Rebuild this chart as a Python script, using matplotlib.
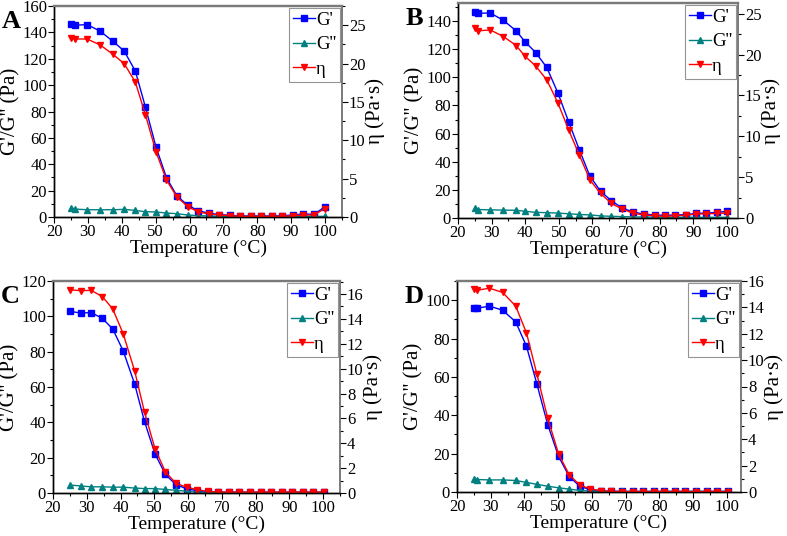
import matplotlib.pyplot as plt
from matplotlib.ticker import MultipleLocator

plt.rcParams['font.family'] = ['Liberation Serif', 'DejaVu Serif']

# temperatures (degC)
tA = [25, 26.3, 29.8, 33.7, 37.4, 40.7, 44, 47, 50.1, 53.2, 56.3, 59.5, 62.6,
      65.7, 68.8, 71.9, 75, 78.1, 81.2, 84.3, 87.4, 90.5, 93.6, 96.7, 99.9]
tB = [25, 26, 29.6, 33.5, 37.3, 39.9, 43.1, 46.4, 49.7, 52.9, 56.1, 59.2, 62.4,
      65.6, 68.8, 72, 75.2, 78.5, 81.5, 84.6, 87.9, 90.9, 93.8, 97.1, 100]
tC = [25, 28.2, 31.3, 34.6, 37.7, 40.8, 44.2, 47.1, 50.2, 53.3, 56.4, 59.6, 62.7,
      65.8, 69, 72.1, 75.2, 78.3, 81.5, 84.6, 87.7, 90.8, 94, 97, 100.2]
tD = [25.1, 26, 29.6, 33.5, 37.4, 40.6, 43.7, 46.9, 50.1, 53.3, 56.4, 59.5, 62.7,
      65.8, 69, 72.1, 75.2, 78.3, 81.5, 84.6, 87.7, 90.8, 94, 97, 100.2]

# storage modulus G' (Pa)
gpA = [146.4, 145.4, 145.9, 140.8, 133.2, 125.9, 110.7, 83.2, 53.1, 29.8, 15.9, 8.9, 4.8,
       2.8, 1.8, 1.3, 0.8, 0.8, 0.8, 0.8, 1.0, 1.5, 2.3, 2.0, 7.6]
gpB = [146.5, 145.5, 145.7, 140.5, 133, 125.4, 117.6, 107, 89, 68.5, 48.5, 30, 19,
       12.3, 7.2, 4.3, 2.8, 2.1, 1.9, 2.1, 2.4, 3.3, 3.5, 4.0, 4.7]
gpC = [102.8, 101.9, 102.1, 98.9, 92.8, 80.4, 61.6, 40.5, 22.2, 10.5, 4.7, 2.4, 1.3,
       0.75, 0.5, 0.4, 0.4, 0.4, 0.4, 0.4, 0.4, 0.4, 0.4, 0.4, 0.4]
gpD = [96, 95.8, 96.9, 94.8, 88.7, 76, 56.2, 35.1, 18.6, 8, 3, 1.2, 0.5,
       0.35, 0.3, 0.3, 0.3, 0.3, 0.3, 0.3, 0.3, 0.3, 0.3, 0.3, 0.3]

# loss modulus G'' (Pa)
gppA = [7, 6, 5.5, 5.5, 5.5, 5.8, 5, 4, 3.8, 3, 2.5, 1.5, 1,
        0.8, 0.5, 0.5, 0.5, 0.5, 0.5, 0.5, 0.5, 0.5, 0.5, 0.5, 0.5]
gppB = [7, 6, 5.8, 5.6, 5.5, 4.8, 4, 3.8, 3.5, 3, 2.5, 2.2, 1.5,
        1.2, 1, 0.8, 0.7, 0.6, 0.5, 0.5, 0.5, 0.5, 0.5, 0.5, 0.5]
gppC = [4.5, 4, 3.5, 3.5, 3.3, 3.3, 2.8, 2.5, 2.5, 2, 1.5, 1, 0.5,
        0.4, 0.4, 0.4, 0.4, 0.4, 0.4, 0.4, 0.4, 0.4, 0.4, 0.4, 0.4]
gppD = [7, 6.5, 6.3, 6.3, 6, 5, 4, 3, 2.2, 1.5, 0.8, 0.5, 0.3,
        0.3, 0.3, 0.3, 0.3, 0.3, 0.3, 0.3, 0.3, 0.3, 0.3, 0.3, 0.3]

# viscosity eta (Pa s)
etaA = [23.35, 23.2, 23.2, 22.4, 21.2, 20.0, 17.6, 13.3, 8.5, 4.8, 2.6, 1.35, 0.65,
        0.4, 0.26, 0.17, 0.09, 0.09, 0.09, 0.09, 0.09, 0.17, 0.26, 0.26, 1.09]
etaB = [23.2, 22.9, 23.0, 22.2, 21.1, 19.8, 18.6, 16.9, 14.1, 10.8, 7.7, 4.7, 3.0,
        1.8, 1.1, 0.6, 0.37, 0.28, 0.2, 0.28, 0.33, 0.5, 0.5, 0.57, 0.6]
etaC = [16.35, 16.27, 16.3, 15.8, 14.8, 12.8, 9.8, 6.5, 3.57, 1.69, 0.78, 0.46, 0.27,
        0.13, 0.08, 0.08, 0.08, 0.08, 0.08, 0.08, 0.08, 0.08, 0.08, 0.08, 0.08]
etaD = [15.4, 15.3, 15.45, 15.14, 14.1, 12.06, 8.92, 5.59, 2.9, 1.29, 0.53, 0.23, 0.1,
        0.05, 0.03, 0.03, 0.03, 0.03, 0.03, 0.03, 0.03, 0.03, 0.03, 0.03, 0.03]

panels = [
    ("A", tA, gpA, gppA, etaA, [54, 6, 342, 217], 105, 160, 27.5, 20, 5),
    ("B", tB, gpB, gppB, etaB, [458, 3, 738, 218], 103.3, 152.8, 26.3, 20, 5),
    ("C", tC, gpC, gppC, etaC, [53, 281, 340, 493], 105, 120, 17.05, 20, 2),
    ("D", tD, gpD, gppD, etaD, [457, 281, 741, 492], 104.2, 110, 16, 20, 2),
]

W, H = 787, 536
fig = plt.figure(figsize=(W / 100, H / 100), dpi=100)
blue, teal, red = '#0000ff', '#008080', '#ff0000'
gray = '#7a7a7a'

for letter, t, gp, gpp, eta, box, xmax, ymax, rmax, ystep, rstep in panels:
    x0, y0, x1, y1 = box
    ax = fig.add_axes([x0 / W, 1 - y1 / H, (x1 - x0) / W, (y1 - y0) / H])
    ax2 = ax.twinx()
    l1, = ax.plot(t, gp, '-s', color=blue, lw=1, ms=4.5)
    l2, = ax.plot(t, gpp, '-^', color=teal, lw=1, ms=4.5)
    l3, = ax2.plot(t, eta, '-v', color=red, lw=1, ms=5)
    ax.set_xlim(20, xmax)
    ax.set_ylim(0, ymax)
    ax2.set_ylim(0, rmax)
    ax.xaxis.set_major_locator(MultipleLocator(10))
    ax.xaxis.set_minor_locator(MultipleLocator(5))
    ax.yaxis.set_major_locator(MultipleLocator(ystep))
    ax.yaxis.set_minor_locator(MultipleLocator(ystep / 2))
    ax2.yaxis.set_major_locator(MultipleLocator(rstep))
    ax2.yaxis.set_minor_locator(MultipleLocator(rstep / 2))
    for a in (ax, ax2):
        a.tick_params(which='major', direction='out', length=4, width=0.8, labelsize=12, pad=1)
        a.tick_params(which='minor', direction='out', length=2.5, width=0.8)
        a.spines['top'].set_color(gray)
        a.spines['top'].set_linewidth(1.6)
        a.spines['right'].set_color(gray)
        a.spines['right'].set_linewidth(1.2)
        a.spines['left'].set_linewidth(1.0)
        a.spines['bottom'].set_linewidth(1.0)
    ax.set_xlabel("Temperature (\u00b0C)", fontsize=14, labelpad=0)
    ax.set_ylabel("G'/G'' (Pa)", fontsize=15, labelpad=1)
    ax2.set_ylabel("\u03b7 (Pa\u00b7s)", fontsize=15, labelpad=0)
    leg = ax.legend([l1, l2, l3], ["G'", "G''", "\u03b7"], loc='upper right',
                    fontsize=13.5, frameon=True, fancybox=False, borderaxespad=0.1,
                    handlelength=1.2, handletextpad=0.05, labelspacing=0.4,
                    borderpad=0.2)
    leg.get_frame().set_edgecolor(gray)
    leg.get_frame().set_linewidth(0.8)
    fig.text((x0 - 52) / W, 1 - (y0 + 22) / H, letter, fontsize=19, fontweight='bold')

fig.savefig("out.png", dpi=100)
